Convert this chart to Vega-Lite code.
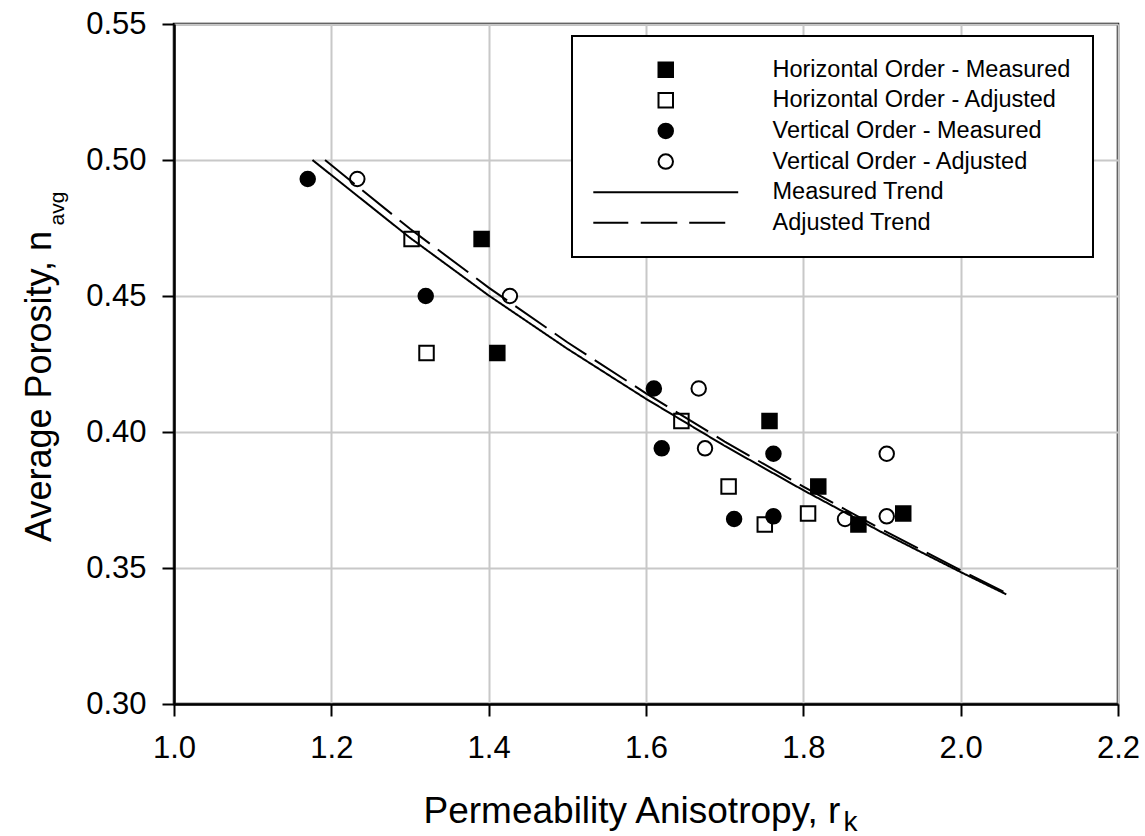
{
  "$schema": "https://vega.github.io/schema/vega-lite/v6.json",
  "width": 944,
  "height": 680,
  "autosize": {"type": "none"},
  "padding": {"left": 174, "top": 24, "right": 27, "bottom": 132},
  "background": "white",
  "config": {
    "font": "Liberation Sans",
    "view": {"stroke": "black", "strokeWidth": 2.5},
    "axis": {
      "domainColor": "black", "domainWidth": 2.5,
      "tickColor": "black", "tickWidth": 2, "tickSize": 12,
      "gridColor": "#c8c8c8", "gridWidth": 2,
      "labelColor": "black", "titleColor": "black",
      "labelFont": "Liberation Sans", "titleFont": "Liberation Sans",
      "titleFontWeight": "normal", "labelFlush": false, "labelOverlap": false
    },
    "legend": {"strokeWidth": 2}
  },
  "datasets": {
    "points": [
      {"series": "Vertical Order - Adjusted", "rk": 1.233, "n": 0.493},
      {"series": "Vertical Order - Adjusted", "rk": 1.427, "n": 0.450},
      {"series": "Vertical Order - Adjusted", "rk": 1.667, "n": 0.416},
      {"series": "Vertical Order - Adjusted", "rk": 1.675, "n": 0.394},
      {"series": "Vertical Order - Adjusted", "rk": 1.853, "n": 0.368},
      {"series": "Vertical Order - Adjusted", "rk": 1.906, "n": 0.392},
      {"series": "Vertical Order - Adjusted", "rk": 1.906, "n": 0.369},
      {"series": "Horizontal Order - Adjusted", "rk": 1.302, "n": 0.471},
      {"series": "Horizontal Order - Adjusted", "rk": 1.321, "n": 0.429},
      {"series": "Horizontal Order - Adjusted", "rk": 1.645, "n": 0.404},
      {"series": "Horizontal Order - Adjusted", "rk": 1.705, "n": 0.380},
      {"series": "Horizontal Order - Adjusted", "rk": 1.751, "n": 0.366},
      {"series": "Horizontal Order - Adjusted", "rk": 1.806, "n": 0.370},
      {"series": "Vertical Order - Measured", "rk": 1.170, "n": 0.493},
      {"series": "Vertical Order - Measured", "rk": 1.320, "n": 0.450},
      {"series": "Vertical Order - Measured", "rk": 1.610, "n": 0.416},
      {"series": "Vertical Order - Measured", "rk": 1.620, "n": 0.394},
      {"series": "Vertical Order - Measured", "rk": 1.712, "n": 0.368},
      {"series": "Vertical Order - Measured", "rk": 1.762, "n": 0.392},
      {"series": "Vertical Order - Measured", "rk": 1.762, "n": 0.369},
      {"series": "Horizontal Order - Measured", "rk": 1.391, "n": 0.471},
      {"series": "Horizontal Order - Measured", "rk": 1.411, "n": 0.429},
      {"series": "Horizontal Order - Measured", "rk": 1.757, "n": 0.404},
      {"series": "Horizontal Order - Measured", "rk": 1.819, "n": 0.380},
      {"series": "Horizontal Order - Measured", "rk": 1.870, "n": 0.366},
      {"series": "Horizontal Order - Measured", "rk": 1.927, "n": 0.370}
    ],
    "trends": [
      {"trend": "Measured Trend", "rk": 1.176, "n": 0.5000},
      {"trend": "Measured Trend", "rk": 1.3, "n": 0.4714},
      {"trend": "Measured Trend", "rk": 1.4, "n": 0.4502},
      {"trend": "Measured Trend", "rk": 1.5, "n": 0.4306},
      {"trend": "Measured Trend", "rk": 1.6, "n": 0.4122},
      {"trend": "Measured Trend", "rk": 1.7, "n": 0.3949},
      {"trend": "Measured Trend", "rk": 1.8, "n": 0.3786},
      {"trend": "Measured Trend", "rk": 1.9, "n": 0.3631},
      {"trend": "Measured Trend", "rk": 2.0, "n": 0.3485},
      {"trend": "Measured Trend", "rk": 2.058, "n": 0.3403},
      {"trend": "Adjusted Trend", "rk": 1.192, "n": 0.5000},
      {"trend": "Adjusted Trend", "rk": 1.3, "n": 0.4747},
      {"trend": "Adjusted Trend", "rk": 1.4, "n": 0.4531},
      {"trend": "Adjusted Trend", "rk": 1.5, "n": 0.4330},
      {"trend": "Adjusted Trend", "rk": 1.6, "n": 0.4142},
      {"trend": "Adjusted Trend", "rk": 1.7, "n": 0.3965},
      {"trend": "Adjusted Trend", "rk": 1.8, "n": 0.3799},
      {"trend": "Adjusted Trend", "rk": 1.9, "n": 0.3641},
      {"trend": "Adjusted Trend", "rk": 2.0, "n": 0.3492},
      {"trend": "Adjusted Trend", "rk": 2.06, "n": 0.3405}
    ]
  },
  "layer": [
    {
      "data": {"name": "points"},
      "mark": {"type": "point", "filled": true, "stroke": "black", "strokeWidth": 2, "opacity": 1, "size": 210},
      "encoding": {
        "x": {
          "field": "rk", "type": "quantitative",
          "scale": {"domain": [1, 2.2], "nice": false, "zero": false},
          "axis": {
            "orient": "bottom", "values": [1, 1.2, 1.4, 1.6, 1.8, 2, 2.2], "format": ".1f",
            "labelFontSize": 31, "labelPadding": 17, "grid": true,
            "title": "Permeability Anisotropy, r", "titleFontSize": 37,
            "titleX": 249, "titleY": 118, "titleAlign": "left", "titleBaseline": "alphabetic"
          }
        },
        "y": {
          "field": "n", "type": "quantitative",
          "scale": {"domain": [0.3, 0.55], "nice": false, "zero": false},
          "axis": {
            "orient": "left", "values": [0.3, 0.35, 0.4, 0.45, 0.5, 0.55], "format": ".2f",
            "labelFontSize": 31, "labelPadding": 16, "grid": true,
            "title": "Average Porosity, n", "titleFontSize": 36, "titleAngle": 270,
            "titleX": -124, "titleY": 362, "titleAlign": "center", "titleBaseline": "alphabetic"
          }
        },
        "shape": {
          "field": "series", "type": "nominal",
          "scale": {
            "domain": ["Horizontal Order - Measured", "Horizontal Order - Adjusted", "Vertical Order - Measured", "Vertical Order - Adjusted", "Measured Trend", "Adjusted Trend"],
            "range": ["square", "square", "circle", "circle", "M-10,0H10", "M-10,0H-5.17M-3.45,0H1.59M3.24,0H8.21"]
          },
          "legend": {
            "orient": "none", "legendX": 398, "legendY": 12, "title": null,
            "padding": 22, "strokeColor": "black", "fillColor": "white",
            "labelFontSize": 23.5, "labelColor": "black", "labelOffset": 95, "labelLimit": 0,
            "symbolOffset": 60, "symbolSize": 210, "rowPadding": 5.6, "symbolStrokeWidth": 2
          }
        },
        "fill": {
          "field": "series", "type": "nominal",
          "scale": {
            "domain": ["Horizontal Order - Measured", "Horizontal Order - Adjusted", "Vertical Order - Measured", "Vertical Order - Adjusted", "Measured Trend", "Adjusted Trend"],
            "range": ["black", "white", "black", "white", "transparent", "transparent"]
          },
          "legend": {
            "orient": "none", "legendX": 398, "legendY": 12, "title": null,
            "padding": 22, "strokeColor": "black", "fillColor": "white",
            "labelFontSize": 23.5, "labelColor": "black", "labelOffset": 95, "labelLimit": 0,
            "symbolOffset": 60, "symbolSize": 210, "rowPadding": 5.6, "symbolStrokeWidth": 2
          }
        },
        "stroke": {
          "field": "series", "type": "nominal",
          "scale": {
            "domain": ["Horizontal Order - Measured", "Horizontal Order - Adjusted", "Vertical Order - Measured", "Vertical Order - Adjusted", "Measured Trend", "Adjusted Trend"],
            "range": ["black", "black", "black", "black", "black", "black"]
          },
          "legend": {
            "orient": "none", "legendX": 398, "legendY": 12, "title": null,
            "padding": 22, "strokeColor": "black", "fillColor": "white",
            "labelFontSize": 23.5, "labelColor": "black", "labelOffset": 95, "labelLimit": 0,
            "symbolOffset": 60, "symbolSize": 210, "rowPadding": 5.6, "symbolStrokeWidth": 2
          }
        }
      }
    },
    {
      "data": {"name": "trends"},
      "mark": {"type": "line", "color": "black", "strokeWidth": 2},
      "encoding": {
        "x": {
          "field": "rk", "type": "quantitative",
          "scale": {"domain": [1, 2.2], "nice": false, "zero": false},
          "axis": {
            "orient": "top", "labels": false, "ticks": false, "domain": false, "grid": false,
            "title": "k", "titleFontSize": 28, "titleX": 669, "titleY": 806,
            "titleAlign": "left", "titleBaseline": "alphabetic"
          }
        },
        "y": {
          "field": "n", "type": "quantitative",
          "scale": {"domain": [0.3, 0.55], "nice": false, "zero": false},
          "axis": {
            "orient": "right", "labels": false, "ticks": false, "domain": false, "grid": false,
            "title": "avg", "titleFontSize": 21, "titleAngle": 270,
            "titleX": -1055, "titleY": 184, "titleAlign": "center", "titleBaseline": "alphabetic"
          }
        },
        "strokeDash": {
          "field": "trend", "type": "nominal",
          "scale": {"domain": ["Measured Trend", "Adjusted Trend"], "range": [[1, 0], [38, 10]]},
          "legend": null
        }
      }
    }
  ],
  "resolve": {"axis": {"x": "independent", "y": "independent"}}
}
